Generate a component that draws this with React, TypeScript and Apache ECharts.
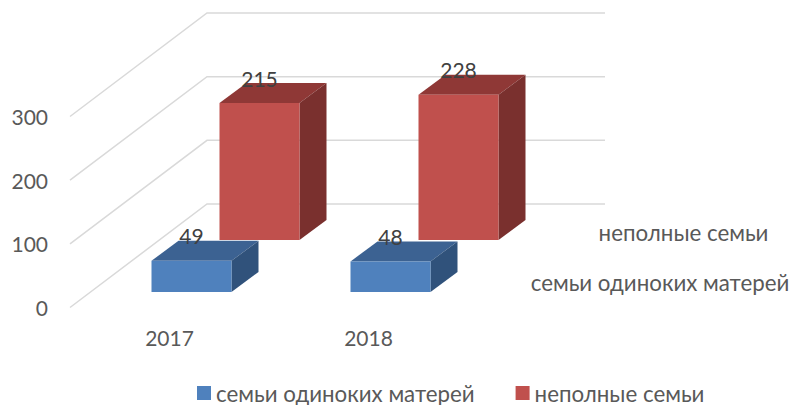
import React, { useEffect, useRef } from "react";
import * as echarts from "echarts";

const categories = ["2017", "2018"];
const singleMothersName = "семьи одиноких матерей";
const incompleteName = "неполные семьи";
const singleMothers = [49, 48];
const incomplete = [215, 228];
const yTicks = [0, 100, 200, 300];

const FONT = "Lato, 'Open Sans', sans-serif";
const FS = 21;
const FS_TEXT = 22.3;
const GRID = { left: 70, top: 116.5, width: 398, height: 191 };
const WALL_DX = 137;
const WALL_DY = 103.5;
const BAR_W = 80;
const BAR_DX = 27;
const BAR_DY = 20;

function barRender(
  offX: number,
  offY: number,
  colors: { front: string; top: string; side: string },
) {
  return (params: any, api: any) => {
    const idx = api.value(0);
    const val = api.value(1);
    const base = api.coord([idx, 0]);
    const head = api.coord([idx, val]);
    const l = base[0] + offX - BAR_W / 2;
    const r = l + BAR_W;
    const b = base[1] - offY;
    const t = head[1] - offY;
    return {
      type: "group",
      children: [
        {
          type: "polygon",
          shape: { points: [[l, t], [r, t], [r + BAR_DX, t - BAR_DY], [l + BAR_DX, t - BAR_DY]] },
          style: { fill: colors.top },
        },
        {
          type: "polygon",
          shape: { points: [[r, b], [r + BAR_DX, b - BAR_DY], [r + BAR_DX, t - BAR_DY], [r, t]] },
          style: { fill: colors.side },
        },
        {
          type: "rect",
          shape: { x: l, y: t, width: BAR_W, height: b - t },
          style: { fill: colors.front },
        },
        {
          type: "text",
          style: {
            x: (l + r) / 2,
            y: t - 25,
            text: String(val),
            fill: "#404040",
            font: `${FS}px ${FONT}`,
            align: "center",
            verticalAlign: "middle",
          },
        },
      ],
    };
  };
}

function gridRender(params: any, api: any) {
  const c = api.coord([0, api.value(1)]);
  const x0 = params.coordSys.x;
  const y = c[1];
  return {
    type: "polyline",
    shape: {
      points: [
        [x0, y],
        [x0 + WALL_DX, y - WALL_DY],
        [x0 + WALL_DX + params.coordSys.width, y - WALL_DY],
      ],
    },
    style: { fill: "none", stroke: "#d9d9d9", lineWidth: 1.5 },
  };
}

export default function App() {
  const ref = useRef<HTMLDivElement>(null);
  useEffect(() => {
    const chart = echarts.init(ref.current!, null, { renderer: "svg" });
    chart.setOption({
      animation: false,
      backgroundColor: "#ffffff",
      grid: GRID,
      legend: {
        left: 192,
        top: 377,
        icon: "rect",
        itemWidth: 14,
        itemHeight: 14,
        itemGap: 41,
        data: [singleMothersName, incompleteName],
        textStyle: { fontFamily: FONT, fontSize: FS_TEXT, padding: [0, 0, 4, 0], color: "#595959" },
      },
      xAxis: {
        type: "category",
        data: categories,
        axisLine: { show: false },
        axisTick: { show: false },
        axisLabel: { fontFamily: FONT, fontSize: FS, color: "#595959", margin: 19 },
      },
      yAxis: {
        type: "value",
        min: 0,
        max: 300,
        interval: 100,
        splitLine: { show: false },
        axisLine: { show: false },
        axisTick: { show: false },
        axisLabel: { fontFamily: FONT, fontSize: FS, color: "#595959", margin: 22, padding: [3, 0, 0, 0] },
      },
      graphic: [
        {
          type: "text",
          x: 683.5,
          y: 232,
          style: { text: incompleteName, fill: "#595959", font: `${FS_TEXT}px ${FONT}`, align: "center", verticalAlign: "middle" },
        },
        {
          type: "text",
          x: 660,
          y: 282.5,
          style: { text: singleMothersName, fill: "#595959", font: `${FS_TEXT}px ${FONT}`, align: "center", verticalAlign: "middle" },
        },
      ],
      series: [
        {
          type: "custom",
          name: "grid",
          z: 1,
          silent: true,
          renderItem: gridRender,
          data: yTicks.map((v) => [0, v]),
          encode: { x: 0, y: 1 },
        },
        {
          type: "custom",
          name: singleMothersName,
          z: 3,
          itemStyle: { color: "#4f81bd" },
          renderItem: barRender(22, 15.5, { front: "#4f81bd", top: "#3c6292", side: "#30527b" }),
          data: singleMothers.map((v, i) => [i, v]),
          encode: { x: 0, y: 1 },
        },
        {
          type: "custom",
          name: incompleteName,
          z: 2,
          itemStyle: { color: "#c0504d" },
          renderItem: barRender(90, 67.5, { front: "#c0504d", top: "#8f3836", side: "#7a302e" }),
          data: incomplete.map((v, i) => [i, v]),
          encode: { x: 0, y: 1 },
        },
      ],
    });
    return () => chart.dispose();
  }, []);
  return (
    <div
      ref={ref}
      style={{ position: "fixed", left: 0, top: 0, width: 791, height: 405 }}
    />
  );
}
